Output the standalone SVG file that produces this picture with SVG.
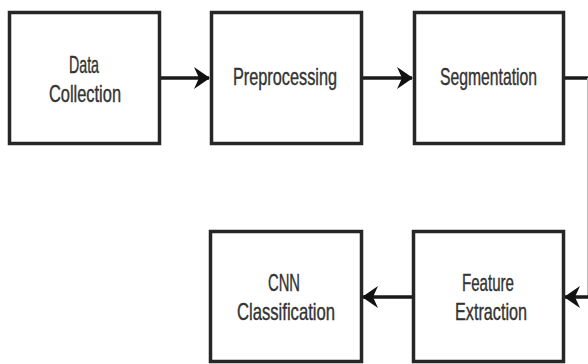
<svg xmlns="http://www.w3.org/2000/svg" width="588" height="364" viewBox="0 0 588 364">
<style>
.box{fill:#fff;stroke:#262626;stroke-width:3.5}
.lbl{font-family:"Liberation Sans",Arial,sans-serif;font-size:24px;fill:#333;stroke:#333;stroke-width:0.4;text-anchor:middle}
.edge{fill:none;stroke:#1a1a1a;stroke-width:3.5}
</style>
<defs>
<marker id="ah" viewBox="0 0 16 22" refX="15" refY="11" markerWidth="16" markerHeight="22" markerUnits="userSpaceOnUse" orient="auto">
<path d="M0,0 L16,11 L0,22 L5,11 Z" fill="#111"/>
</marker>
</defs>
<rect width="588" height="364" fill="#fff"/>
<g id="connectors">
<line class="edge" x1="160" y1="78" x2="209" y2="78" marker-end="url(#ah)"/>
<line class="edge" x1="362" y1="78" x2="412" y2="78" marker-end="url(#ah)"/>
<line class="edge" x1="564" y1="78" x2="588" y2="78"/>
<line x1="587.5" y1="78" x2="587.5" y2="297" stroke="#bbb" stroke-width="1"/>
<line class="edge" x1="588" y1="297" x2="565" y2="297" marker-end="url(#ah)"/>
<line class="edge" x1="413" y1="297" x2="363" y2="297" marker-end="url(#ah)"/>
</g>
<g id="n1">
<rect class="box" x="9.5" y="12.5" width="150" height="131"/>
<text class="lbl" x="84" y="73" textLength="30" lengthAdjust="spacingAndGlyphs">Data</text>
<text class="lbl" x="85" y="102" textLength="72" lengthAdjust="spacingAndGlyphs">Collection</text>
</g>
<g id="n2">
<rect class="box" x="211.5" y="12.5" width="150" height="131"/>
<text class="lbl" x="285" y="85" textLength="104" lengthAdjust="spacingAndGlyphs">Preprocessing</text>
</g>
<g id="n3">
<rect class="box" x="414.5" y="12.5" width="149" height="131"/>
<text class="lbl" x="488.5" y="85" textLength="97" lengthAdjust="spacingAndGlyphs">Segmentation</text>
</g>
<g id="n4">
<rect class="box" x="210.5" y="231.5" width="151" height="130"/>
<text class="lbl" x="284" y="291" textLength="32" lengthAdjust="spacingAndGlyphs">CNN</text>
<text class="lbl" x="286" y="320" textLength="98" lengthAdjust="spacingAndGlyphs">Classification</text>
</g>
<g id="n5">
<rect class="box" x="413.5" y="231.5" width="150" height="130"/>
<text class="lbl" x="488" y="291" textLength="52" lengthAdjust="spacingAndGlyphs">Feature</text>
<text class="lbl" x="491" y="320" textLength="72" lengthAdjust="spacingAndGlyphs">Extraction</text>
</g>
</svg>
